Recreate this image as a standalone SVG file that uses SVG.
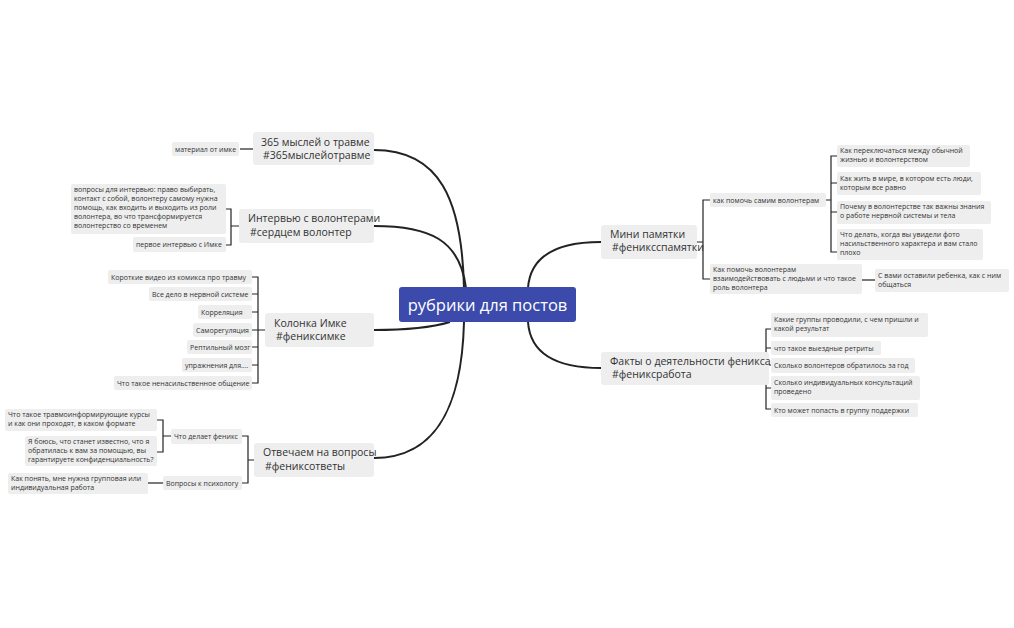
<svg xmlns="http://www.w3.org/2000/svg" width="1014" height="628" viewBox="0 0 1014 628">
<style>
.b{fill:#eeeeee}
.t{font-family:"Open Sans","Noto Sans",sans-serif;font-size:10.5px;fill:#333}
.s{font-family:"Open Sans","Noto Sans",sans-serif;font-size:7px;fill:#333}
.c{fill:none;stroke:#222;stroke-width:2}
.l{fill:none;stroke:#222;stroke-width:1.2}
</style>
<rect width="1014" height="628" fill="#fff"/>
<g id="connectors">
<path class="c" d="M374 150 C440 150 462 200 464 288"/>
<path class="c" d="M374 226 C430 226 460 240 466 288"/>
<path class="c" d="M374 330 C420 330 440 325 450 322"/>
<path class="c" d="M374 458 C440 458 462 400 464 322"/>
<path class="c" d="M601 242 C550 242 530 260 528 288"/>
<path class="c" d="M601 368 C550 368 530 350 528 322"/>
<path class="l" d="M240 149H253"/>
<path class="l" d="M226 209H231V245H226M231 226H239"/>
<path class="l" d="M252 277H258V383H252M252 294H258M252 312H258M252 330H265M252 347H258M252 365H258"/>
<path class="l" d="M242 436H248V483H242M248 460H254"/>
<path class="l" d="M157 420H163V452H157M163 436H171"/>
<path class="l" d="M148 483H163"/>
<path class="l" d="M710 200H703V279H710M697 242H703"/>
<path class="l" d="M837 156H831V252H837M837 183H831M837 212H831M826 200H831"/>
<path class="l" d="M862 280H875"/>
<path class="l" d="M771 329H766V409H771M771 348H766M771 365H766M771 388H766M769 368H766"/>
</g>
<g id="central"><rect x="399" y="287" width="177" height="35" rx="3" fill="#3b4aab"/><text x="487.5" y="311" text-anchor="middle" font-family="Open Sans,Noto Sans,sans-serif" font-size="16.5" fill="#fff">рубрики для постов</text></g>
<g id="t365"><rect class="b" x="253" y="132" width="121" height="33" rx="3"/><text class="t" x="261" y="146">365 мыслей о травме</text><text class="t" x="263" y="159">#365мыслейотравме</text></g>
<g id="tint"><rect class="b" x="239" y="209" width="135" height="34" rx="3"/><text class="t" x="248" y="222">Интервью с волонтерами</text><text class="t" x="250" y="236">#сердцем волонтер</text></g>
<g id="tkol"><rect class="b" x="265" y="313" width="109" height="34" rx="3"/><text class="t" x="274" y="327">Колонка Имке</text><text class="t" x="276" y="340">#фениксимке</text></g>
<g id="totv"><rect class="b" x="254" y="443" width="120" height="34" rx="3"/><text class="t" x="263" y="456">Отвечаем на вопросы</text><text class="t" x="265" y="470">#фениксответы</text></g>
<g id="tmini"><rect class="b" x="601" y="225" width="96" height="34" rx="3"/><text class="t" x="610" y="238">Мини памятки</text><text class="t" x="612" y="251">#фениксспамятки</text></g>
<g id="tfakt"><rect class="b" x="601" y="352" width="168" height="33" rx="3"/><text class="t" x="610" y="365">Факты о деятельности феникса</text><text class="t" x="612" y="378">#фениксработа</text></g>
<g id="n1"><rect class="b" x="172" y="142" width="67" height="14" rx="2"/><text class="s" x="175" y="152">материал от имке</text></g>
<g id="n2"><rect class="b" x="71" y="184" width="155" height="50" rx="2"/><text class="s" x="74" y="192">вопросы для интервью: право выбирать,</text><text class="s" x="74" y="201">контакт с собой, волонтеру самому нужна</text><text class="s" x="74" y="210">помощь, как входить и выходить из роли</text><text class="s" x="74" y="219">волонтера, во что трансформируется</text><text class="s" x="74" y="228">волонтерство со временем</text></g>
<g id="n3"><rect class="b" x="133" y="237" width="93" height="15" rx="2"/><text class="s" x="136" y="247">первое интервью с Имке</text></g>
<g id="n4"><rect class="b" x="108" y="270" width="144" height="14" rx="2"/><text class="s" x="111" y="280">Короткие видео из комикса про травму</text></g>
<g id="n5"><rect class="b" x="149" y="287" width="103" height="14" rx="2"/><text class="s" x="152" y="297">Все дело в нервной системе</text></g>
<g id="n6"><rect class="b" x="198" y="305" width="54" height="14" rx="2"/><text class="s" x="201" y="315">Корреляция</text></g>
<g id="n7"><rect class="b" x="193" y="323" width="59" height="14" rx="2"/><text class="s" x="196" y="333">Саморегуляция</text></g>
<g id="n8"><rect class="b" x="187" y="340" width="65" height="14" rx="2"/><text class="s" x="190" y="350">Рептильный мозг</text></g>
<g id="n9"><rect class="b" x="182" y="358" width="70" height="14" rx="2"/><text class="s" x="185" y="368">упражнения для....</text></g>
<g id="n10"><rect class="b" x="114" y="376" width="138" height="14" rx="2"/><text class="s" x="117" y="386">Что такое ненасильственное общение</text></g>
<g id="n11"><rect class="b" x="171" y="429" width="71" height="15" rx="2"/><text class="s" x="174" y="439">Что делает феникс</text></g>
<g id="n12"><rect class="b" x="163" y="476" width="79" height="14" rx="2"/><text class="s" x="166" y="486">Вопросы к психологу</text></g>
<g id="n13"><rect class="b" x="5" y="409" width="152" height="22" rx="2"/><text class="s" x="8" y="417">Что такое травмоинформирующие курсы</text><text class="s" x="8" y="426">и как они проходят, в каком формате</text></g>
<g id="n14"><rect class="b" x="25" y="436" width="132" height="30" rx="2"/><text class="s" x="28" y="444">Я боюсь, что станет известно, что я</text><text class="s" x="28" y="453">обратилась к вам за помощью, вы</text><text class="s" x="28" y="462">гарантируете конфиденциальность?</text></g>
<g id="n15"><rect class="b" x="8" y="473" width="140" height="21" rx="2"/><text class="s" x="11" y="481">Как понять, мне нужна групповая или</text><text class="s" x="11" y="490">индивидуальная работа</text></g>
<g id="n16"><rect class="b" x="710" y="193" width="116" height="14" rx="2"/><text class="s" x="713" y="203">как помочь самим волонтерам</text></g>
<g id="n17"><rect class="b" x="710" y="264" width="152" height="30" rx="2"/><text class="s" x="713" y="272">Как помочь волонтерам</text><text class="s" x="713" y="281">взаимодействовать с людьми и что такое</text><text class="s" x="713" y="290">роль волонтера</text></g>
<g id="n18"><rect class="b" x="837" y="145" width="133" height="22" rx="2"/><text class="s" x="840" y="153">Как переключаться между обычной</text><text class="s" x="840" y="162">жизнью и волонтерством</text></g>
<g id="n19"><rect class="b" x="837" y="172" width="144" height="23" rx="2"/><text class="s" x="840" y="181">Как жить в мире, в котором есть люди,</text><text class="s" x="840" y="190">которым все равно</text></g>
<g id="n20"><rect class="b" x="837" y="201" width="154" height="23" rx="2"/><text class="s" x="840" y="209">Почему в волонтерстве так важны знания</text><text class="s" x="840" y="218">о работе нервной системы и тела</text></g>
<g id="n21"><rect class="b" x="837" y="229" width="146" height="31" rx="2"/><text class="s" x="840" y="237">Что делать, когда вы увидели фото</text><text class="s" x="840" y="246">насильственного характера и вам стало</text><text class="s" x="840" y="255">плохо</text></g>
<g id="n22"><rect class="b" x="875" y="269" width="134" height="23" rx="2"/><text class="s" x="878" y="278">С вами оставили ребенка, как с ним</text><text class="s" x="878" y="287">общаться</text></g>
<g id="n23"><rect class="b" x="771" y="313" width="157" height="24" rx="2"/><text class="s" x="774" y="322">Какие группы проводили, с чем пришли и</text><text class="s" x="774" y="331">какой результат</text></g>
<g id="n24"><rect class="b" x="771" y="341" width="110" height="14" rx="2"/><text class="s" x="774" y="351">что такое выездные ретриты</text></g>
<g id="n25"><rect class="b" x="771" y="358" width="144" height="15" rx="2"/><text class="s" x="774" y="368">Сколько волонтеров обратилось за год</text></g>
<g id="n26"><rect class="b" x="771" y="376" width="149" height="24" rx="2"/><text class="s" x="774" y="385">Сколько индивидуальных консультаций</text><text class="s" x="774" y="394">проведено</text></g>
<g id="n27"><rect class="b" x="771" y="403" width="147" height="14" rx="2"/><text class="s" x="774" y="413">Кто может попасть в группу поддержки</text></g>
</svg>
